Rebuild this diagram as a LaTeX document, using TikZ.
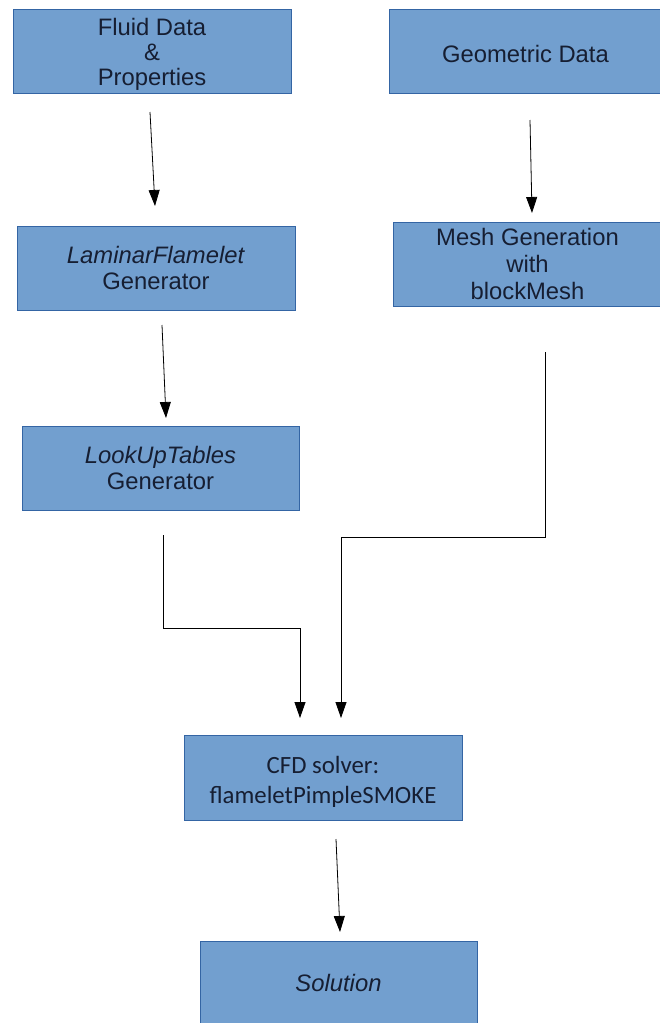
\documentclass[tikz,border=0pt]{standalone}
\usepackage{fontspec}
\setmainfont{Liberation Sans}
\newfontfamily\calib{Carlito}
\usetikzlibrary{arrows.meta}
\definecolor{boxfill}{RGB}{114,159,207}
\definecolor{boxline}{RGB}{52,101,164}
\definecolor{boxtext}{RGB}{22,30,50}
\newcommand{\lowerby}[2]{\raisebox{-#1}[\height][\depth]{#2}}
\begin{document}
\begin{tikzpicture}[x=1pt,y=-1pt,
  block/.style={draw=boxline,fill=boxfill,line width=0.9pt,inner sep=0pt,
    text=boxtext,align=center,font=\fontsize{23.8}{26}\selectfont},
  flow/.style={line width=0.8pt,-{Triangle[width=11pt,length=16pt]}}]
\useasboundingbox (0,0) rectangle (660,1023);
\fill[white] (0,0) rectangle (660,1023);
% boxes
\node[block,minimum width=278pt,minimum height=84pt] (fluid) at (152,51) {\lowerby{4pt}{\begin{tabular}{@{}c@{}}Fluid Data\\[-1pt]\&\\[-1pt]Properties\end{tabular}}};
\node[block,minimum width=273pt,minimum height=84pt] (geo) at (525.5,51) {\lowerby{3pt}{Geometric Data}};
\node[block,minimum width=278pt,minimum height=84pt] (lam) at (156,268) {\textit{LaminarFlamelet}\\Generator};
\node[block,minimum width=269pt,minimum height=84pt] (mesh) at (527.5,264) {Mesh Generation\\[1pt]with\\[1pt]blockMesh};
\node[block,minimum width=277pt,minimum height=84pt] (look) at (160.5,468) {\textit{LookUpTables}\\Generator};
\node[block,minimum width=278pt,minimum height=85pt,font=\calib\fontsize{24.8}{30}\selectfont] (cfd) at (323,777.5) {\lowerby{5pt}{\begin{tabular}{@{}c@{}}CFD solver:\\flameletPimpleSMOKE\end{tabular}}};
\node[block,minimum width=277pt,minimum height=84pt] (sol) at (338.5,983) {\textit{Solution}};
% connector endpoints
\coordinate (a1) at (150,112);
\coordinate (a2) at (155,206);
\coordinate (b1) at (530,120);
\coordinate (b2) at (532,213);
\coordinate (c1) at (162,325);
\coordinate (c2) at (166,418);
\coordinate (d1) at (163,535);
\coordinate (d2) at (300,718);
\coordinate (e1) at (545,352);
\coordinate (e2) at (341,718);
\coordinate (f1) at (336,839);
\coordinate (f2) at (340,932);
% connectors
\draw[flow] (a1) -- (a2);
\draw[flow] (b1) -- (b2);
\draw[flow] (c1) -- (c2);
\draw[flow] (d1) -- (163,628) -- (300,628) -- (d2);
\draw[flow] (e1) -- (545,537) -- (341,537) -- (e2);
\draw[flow] (f1) -- (f2);
\end{tikzpicture}
\end{document}
